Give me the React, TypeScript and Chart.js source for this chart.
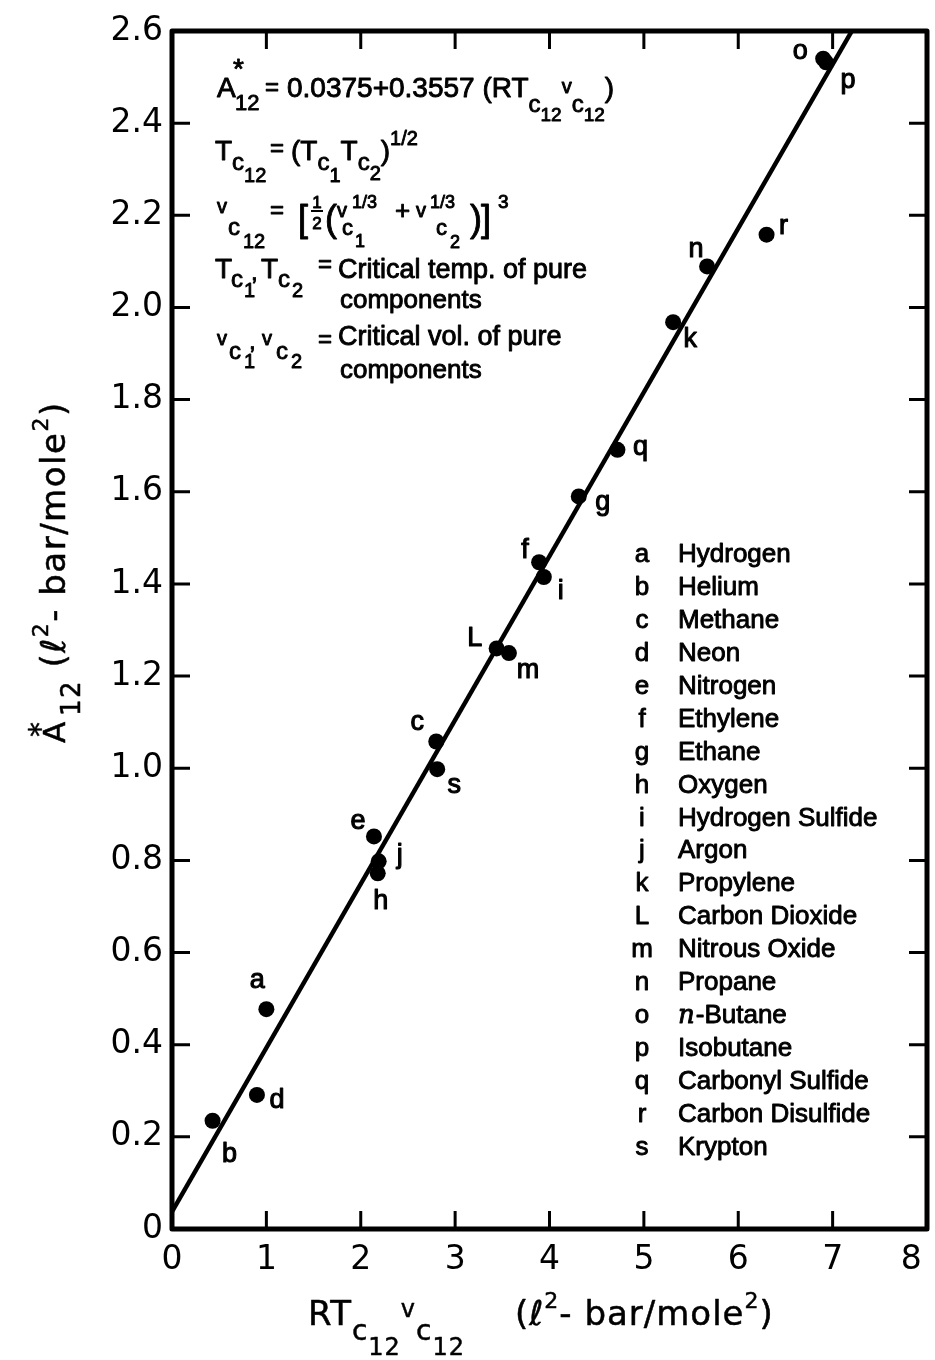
import React, { useEffect, useRef } from "react";
import { Chart, registerables } from "chart.js";

Chart.register(...registerables);

// ---------- data ----------
const pointLetters = ["a", "b", "c", "d", "e", "f", "g", "h", "i", "j", "k", "L", "m", "n", "o", "p", "q", "r", "s"];
const pointX = [1.0, 0.43, 2.8, 0.9, 2.14, 3.89, 4.31, 2.18, 3.94, 2.19, 5.31, 3.44, 3.57, 5.67, 6.9, 6.93, 4.72, 6.3, 2.81];
const pointY = [0.477, 0.235, 1.058, 0.291, 0.852, 1.447, 1.59, 0.772, 1.415, 0.798, 1.968, 1.26, 1.25, 2.089, 2.54, 2.532, 1.691, 2.158, 0.998];

// fitted line A* = 0.0375 + 0.3557 x, from x = 0 to where it leaves the top
const fitX = [0, 7.204];
const fitY = [0.0375, 2.6];

const xTicks = [0, 1, 2, 3, 4, 5, 6, 7, 8];
const yTicks = [0, 0.2, 0.4, 0.6, 0.8, 1.0, 1.2, 1.4, 1.6, 1.8, 2.0, 2.2, 2.4, 2.6];
const xTickLabels = ["0", "1", "2", "3", "4", "5", "6", "7", "8   "];
const yTickLabels = ["0", "0.2", "0.4", "0.6", "0.8", "1.0", "1.2", "1.4", "1.6", "1.8", "2.0", "2.2", "2.4", "2.6"];

const legendLetters = ["a", "b", "c", "d", "e", "f", "g", "h", "i", "j", "k", "L", "m", "n", "o", "p", "q", "r", "s"];
const legendNames = [
  "Hydrogen", "Helium", "Methane", "Neon", "Nitrogen", "Ethylene", "Ethane", "Oxygen",
  "Hydrogen Sulfide", "Argon", "Propylene", "Carbon Dioxide", "Nitrous Oxide", "Propane",
  "n-Butane", "Isobutane", "Carbonyl Sulfide", "Carbon Disulfide", "Krypton",
];

// ---------- styling (label offsets in px from the dot) ----------
const labelOffset: Record<string, [number, number]> = {
  a: [-9, -29], b: [17, 31], c: [-19, -19], d: [20, 3], e: [-16, -15], f: [-14, -14],
  g: [24, 9], h: [3, 26], i: [17, 12], j: [21, -5], k: [17, 15], L: [-22, -12],
  m: [19, 17], n: [-11, -17], o: [-23, -7], p: [22, 21], q: [23, 1], r: [17, -8], s: [17, 16],
};

const TXT = "'Liberation Sans', Arial, sans-serif";
const TTL = "'DejaVu Sans', sans-serif";
const STROKE = 0.9;

type Seg = { t: string; x?: number; s: number; dy?: number; it?: boolean; adv?: boolean; fam?: string };

function fillBold(ctx: CanvasRenderingContext2D, t: string, x: number, y: number, sw = STROKE) {
  ctx.fillText(t, x, y);
  if (sw > 0) {
    ctx.lineWidth = sw;
    ctx.strokeText(t, x, y);
  }
}

function drawRich(ctx: CanvasRenderingContext2D, segs: Seg[], x0: number, base: number, fam: string, ls = 0, sw = STROKE) {
  let cx = x0;
  for (const g of segs) {
    if (g.x !== undefined) cx = g.x;
    ctx.font = `${g.it ? "italic " : ""}${g.s}px ${g.fam || fam}`;
    (ctx as any).letterSpacing = ls + "px";
    fillBold(ctx, g.t, cx, base + (g.dy || 0), sw);
    const w = ctx.measureText(g.t).width;
    if (g.adv !== false) cx += w;
  }
  (ctx as any).letterSpacing = "0px";
}

function drawFrac(ctx: CanvasRenderingContext2D, cx: number, top: number, s: number) {
  ctx.font = `${s}px ${TXT}`;
  ctx.textAlign = "center";
  fillBold(ctx, "1", cx, top + 10);
  ctx.fillRect(cx - 6, top + 12, 12, 2);
  fillBold(ctx, "2", cx, top + 31);
  ctx.textAlign = "left";
}

const figurePlugin = {
  id: "figure",
  afterDatasetsDraw(chart: any) {
    const ctx: CanvasRenderingContext2D = chart.ctx;
    const { left, right, top, bottom } = chart.chartArea;
    const xs = chart.scales.x;
    const ys = chart.scales.y;
    ctx.save();
    ctx.strokeStyle = "#000";
    ctx.fillStyle = "#000";
    ctx.lineJoin = "round";
    // frame
    ctx.lineWidth = 5;
    ctx.strokeRect(left, top, right - left, bottom - top);
    // inward ticks on all four sides
    ctx.lineWidth = 3;
    const TL = 18;
    ctx.beginPath();
    xTicks.forEach((v) => {
      if (v === xTicks[0] || v === xTicks[xTicks.length - 1]) return;
      const px = xs.getPixelForValue(v);
      ctx.moveTo(px, bottom);
      ctx.lineTo(px, bottom - TL);
      ctx.moveTo(px, top);
      ctx.lineTo(px, top + TL);
    });
    yTicks.forEach((v) => {
      if (v === yTicks[0] || v === yTicks[yTicks.length - 1]) return;
      const py = ys.getPixelForValue(v);
      ctx.moveTo(left, py);
      ctx.lineTo(left + TL, py);
      ctx.moveTo(right, py);
      ctx.lineTo(right - TL, py);
    });
    ctx.stroke();

    // point letters
    const meta = chart.getDatasetMeta(1);
    ctx.textAlign = "center";
    ctx.textBaseline = "alphabetic";
    ctx.font = `27px ${TXT}`;
    meta.data.forEach((el: any, i: number) => {
      const L = pointLetters[i];
      const [dx, dy] = labelOffset[L] || [15, 0];
      const m = ctx.measureText(L);
      const cy = el.y + dy;
      const baseY = cy + (m.actualBoundingBoxAscent - m.actualBoundingBoxDescent) / 2;
      fillBold(ctx, L, el.x + dx, baseY, 1.1);
    });
    ctx.textAlign = "left";

    // legend of substances
    const L0 = 562;
    const step = 32.94;
    legendLetters.forEach((l, i) => {
      const b = L0 + i * step;
      ctx.font = `26px ${TXT}`;
      ctx.textAlign = "center";
      fillBold(ctx, l, 642, b);
      ctx.textAlign = "left";
      const name = legendNames[i];
      if (name.startsWith("n-")) {
        ctx.font = `italic 26px 'DejaVu Serif', serif`;
        fillBold(ctx, "n", 678, b);
        const w = ctx.measureText("n").width;
        ctx.font = `26px ${TXT}`;
        fillBold(ctx, name.slice(1), 678 + w + 1, b);
      } else {
        fillBold(ctx, name, 678, b);
      }
    });

    // equations block
    drawRich(ctx, [
      { t: "A", x: 217, s: 28 },
      { t: "*", x: 233, s: 28, dy: -19, adv: false },
      { t: "12", x: 235, s: 22, dy: 13 },
      { t: "=", x: 265, s: 24, dy: -2 },
      { t: "0.0375+0.3557 (RT", x: 287, s: 28 },
      { t: "c", s: 24, dy: 15 },
      { t: "12", s: 19, dy: 24 },
      { t: "v", s: 20, dy: -4 },
      { t: "c", s: 24, dy: 15 },
      { t: "12", s: 19, dy: 24 },
      { t: ")", s: 28 },
    ], 217, 97, TXT);
    drawRich(ctx, [
      { t: "T", x: 215, s: 28 },
      { t: "c", s: 24, dy: 10 },
      { t: "12", s: 20, dy: 22 },
      { t: "=", x: 270, s: 24, dy: -4 },
      { t: "(", x: 291, s: 28 },
      { t: "T", s: 28 },
      { t: "c", s: 24, dy: 10 },
      { t: "1", s: 20, dy: 22 },
      { t: "T", s: 28 },
      { t: "c", s: 24, dy: 10 },
      { t: "2", s: 20, dy: 20 },
      { t: ")", s: 28 },
      { t: "1/2", s: 20, dy: -15 },
    ], 215, 160, TXT);
    drawRich(ctx, [
      { t: "v", x: 217, s: 20, dy: -9 },
      { t: "c", x: 228, s: 24, dy: 13 },
      { t: "12", x: 243, s: 20, dy: 26 },
      { t: "=", x: 270, s: 24, dy: -4 },
      { t: "[", x: 298, s: 36, dy: 9 },
      { t: "(", x: 325, s: 36, dy: 9 },
      { t: "v", x: 337, s: 20, dy: -5 },
      { t: "1/3", x: 352, s: 18, dy: -14 },
      { t: "c", x: 342, s: 22, dy: 13 },
      { t: "1", x: 355, s: 18, dy: 25 },
      { t: "+", x: 395, s: 26, dy: -3 },
      { t: "v", x: 416, s: 20, dy: -5 },
      { t: "1/3", x: 430, s: 18, dy: -14 },
      { t: "c", x: 436, s: 22, dy: 13 },
      { t: "2", x: 450, s: 18, dy: 26 },
      { t: ")", x: 470, s: 36, dy: 9 },
      { t: "]", x: 481, s: 36, dy: 9 },
      { t: "3", x: 498, s: 19, dy: -14 },
    ], 217, 222, TXT);
    drawFrac(ctx, 317, 198, 17);
    drawRich(ctx, [
      { t: "T", x: 215, s: 28 },
      { t: "c", x: 231, s: 24, dy: 9 },
      { t: "1", x: 244, s: 20, dy: 19 },
      { t: ",", x: 251, s: 24, dy: 2 },
      { t: "T", x: 261, s: 28 },
      { t: "c", x: 278, s: 24, dy: 9 },
      { t: "2", x: 292, s: 20, dy: 19 },
      { t: "=", x: 318, s: 24, dy: -6 },
      { t: "Critical temp. of pure", x: 338, s: 27 },
    ], 215, 278, TXT);
    drawRich(ctx, [{ t: "components", x: 340, s: 26 }], 340, 308, TXT);
    drawRich(ctx, [
      { t: "v", x: 217, s: 20 },
      { t: "c", x: 229, s: 24, dy: 14 },
      { t: "1", x: 244, s: 20, dy: 23 },
      { t: ",", x: 249, s: 24, dy: 4 },
      { t: "v", x: 262, s: 20 },
      { t: "c", x: 276, s: 24, dy: 14 },
      { t: "2", x: 291, s: 20, dy: 23 },
      { t: "=", x: 318, s: 24, dy: 2 },
      { t: "Critical vol. of pure", x: 338, s: 27 },
    ], 217, 345, TXT);
    drawRich(ctx, [{ t: "components", x: 340, s: 26 }], 340, 378, TXT);

    // x-axis title
    drawRich(ctx, [
      { t: "RT", x: 308, s: 34 },
      { t: "c", s: 28, dy: 15 },
      { t: "12", s: 24, dy: 30 },
      { t: "v", s: 24, dy: -8 },
      { t: "c", s: 28, dy: 15 },
      { t: "12", s: 24, dy: 30 },
      { t: "(", x: 515, s: 34 },
      { t: "ℓ", s: 34, it: true },
      { t: "2", s: 22, dy: -17 },
      { t: "- bar/mole", s: 34 },
      { t: "2", s: 22, dy: -17 },
      { t: ")", s: 34 },
    ], 308, 1325, TTL, 1, 0.5);

    // y-axis title (rotated)
    ctx.translate(65, 743);
    ctx.rotate(-Math.PI / 2);
    drawRich(ctx, [
      { t: "A", x: 0, s: 31 },
      { t: "*", x: 6, s: 30, dy: -15, adv: false },
      { t: "12", x: 27, s: 26, dy: 15 },
      { t: " (", s: 34 },
      { t: "ℓ", s: 34, it: true },
      { t: "2", s: 22, dy: -17 },
      { t: "- bar/mole", s: 34 },
      { t: "2", s: 22, dy: -17 },
      { t: ")", s: 34 },
    ], 0, 0, TTL, 1.5, 0.5);
    ctx.restore();
  },
};

export default function App() {
  const ref = useRef<HTMLCanvasElement>(null);
  useEffect(() => {
    document.body.style.margin = "0";
    const points = pointX.map((x, i) => ({ x, y: pointY[i] }));
    const line = fitX.map((x, i) => ({ x, y: fitY[i] }));
    const chart = new Chart(ref.current as HTMLCanvasElement, {
      type: "scatter",
      data: {
        datasets: [
          {
            type: "line",
            data: line,
            borderColor: "#000",
            borderWidth: 4.5,
            pointRadius: 0,
            fill: false,
            tension: 0,
          } as any,
          {
            type: "scatter",
            data: points,
            backgroundColor: "#000",
            borderColor: "#000",
            borderWidth: 0,
            pointRadius: 8,
          } as any,
        ],
      },
      options: {
        responsive: false,
        devicePixelRatio: 1,
        animation: false,
        layout: { padding: { top: 31, right: 8, left: 0, bottom: 0 } },
        plugins: { legend: { display: false }, tooltip: { enabled: false } },
        scales: {
          x: {
            type: "linear",
            min: 0,
            max: 8,
            grid: { display: false, drawTicks: false },
            border: { display: false },
            afterBuildTicks: (s: any) => {
              s.ticks = xTicks.map((v) => ({ value: v }));
            },
            afterFit: (s: any) => {
              s.height = 131;
              s.paddingLeft = 0;
              s.paddingRight = 0;
            },
            ticks: {
              color: "#000",
              padding: 12,
              font: { family: "'DejaVu Sans'", size: 33 },
              maxRotation: 0,
              callback: (v: any) => xTickLabels[xTicks.indexOf(Number(v))] ?? "",
            },
          },
          y: {
            type: "linear",
            min: 0,
            max: 2.6,
            grid: { display: false, drawTicks: false },
            border: { display: false },
            afterBuildTicks: (s: any) => {
              s.ticks = yTicks.map((v) => ({ value: v }));
            },
            afterFit: (s: any) => {
              s.width = 172;
              s.paddingTop = 0;
              s.paddingBottom = 0;
            },
            ticks: {
              color: "#000",
              padding: 9,
              font: { family: "'DejaVu Sans'", size: 33 },
              callback: (v: any) => {
                const idx = yTicks.findIndex((t) => Math.abs(t - Number(v)) < 1e-6);
                return idx >= 0 ? yTickLabels[idx] : "";
              },
            },
          },
        },
      },
      plugins: [figurePlugin],
    } as any);
    return () => chart.destroy();
  }, []);
  return <canvas ref={ref} width={935} height={1360} style={{ display: "block", width: 935, height: 1360 }} />;
}
